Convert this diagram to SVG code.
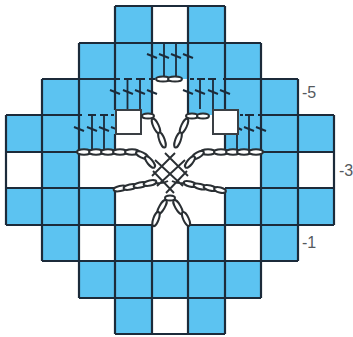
<svg xmlns="http://www.w3.org/2000/svg" width="353" height="337" viewBox="0 0 353 337">
<style>
.b{fill:#5cc3f1}
.g{fill:none;stroke:#1c2b3a;stroke-width:2.2}
.w{fill:none;stroke:#1c2b3a;stroke-width:1.8}
.t{fill:none;stroke:#1c2b3a;stroke-width:2}
.o{fill:#fff;stroke:#2a2f33;stroke-width:2}
.x{fill:none;stroke:#2a2f33;stroke-width:1.9}
.box{fill:#fff;stroke:#3a3f44;stroke-width:2}
text{font-family:"Liberation Sans",Arial,sans-serif;font-size:16px;fill:#55595d}
</style>
<rect width="353" height="337" fill="#fff"/>
<g id="cells">
<rect class="b" x="115" y="6" width="37" height="37"/>
<rect class="b" x="188" y="6" width="37" height="37"/>
<rect class="b" x="79" y="43" width="182" height="36"/>
<rect class="b" x="42" y="79" width="110" height="36"/>
<rect class="b" x="188" y="79" width="110" height="36"/>
<rect class="b" x="6" y="115" width="109" height="37"/>
<rect class="b" x="225" y="115" width="109" height="37"/>
<rect class="b" x="42" y="152" width="37" height="36"/>
<rect class="b" x="261" y="152" width="37" height="36"/>
<rect class="b" x="6" y="188" width="109" height="37"/>
<rect class="b" x="225" y="188" width="109" height="37"/>
<rect class="b" x="42" y="225" width="37" height="36"/>
<rect class="b" x="261" y="225" width="37" height="36"/>
<rect class="b" x="115" y="225" width="37" height="109"/>
<rect class="b" x="188" y="225" width="37" height="109"/>
<rect class="b" x="79" y="261" width="182" height="37"/>
</g>
<g id="connectors">
<path class="g" d="M115 6H225M79 43H261M42 79H120M223 79H298M6 115H82M258 115H334M6 152H79M261 152H334M6 188H115M225 188H334M6 225H152M188 225H334M42 261H298M79 298H261M115 334H225"/>
<path class="g" d="M6 115V225M42 79V261M79 43V298M115 6V110M115 134V152M115 188V334M152 6V115M152 225V334M188 6V115M188 225V334M225 6V110M225 134V152M225 188V334M261 43V298M298 79V261M334 115V225"/>
<path class="w" d="M164 43V79M176 43V79M127.500 79V109M140 79V109M200 79V109M213 79V109M92 115V152M104 115V152M237 134V152M249 115V152"/>
<path class="t" d="M124 79H132M136 79H145M149 79H155M190 79H194M197 79H205M208 79H216M88 115H96M100 115H108M111 115H114M240 115H243M245 115H254"/>
<path class="t" d="M147 54l10 4M159 54l10 4M171 54l10 4M183 54l10 4M110 90l10 4M123 90l10 4M135 90l10 4M147 90l10 4M183 90l10 4M195 90l10 4M208 90l10 4M220 90l10 4M74 127l10 4M87 127l10 4M99 127l10 4M111 127l6 2.400M238 128l4 2M244 127l10 4M256 127l10 4"/>
</g>
<g id="box-left"><rect class="box" x="116" y="110" width="25" height="24"/></g>
<g id="box-right"><rect class="box" x="213" y="110" width="25" height="24"/></g>
<g id="braids">
<g>
<ellipse class="o" cx="163" cy="79" rx="7" ry="2.600"/>
<ellipse class="o" cx="175" cy="79" rx="7" ry="2.600"/>
<ellipse class="o" cx="148" cy="116" rx="6" ry="2.600"/>
<ellipse class="o" cx="192" cy="116" rx="6" ry="2.600"/>
<ellipse class="o" cx="203" cy="116" rx="6" ry="2.600"/>
<ellipse class="o" cx="156" cy="126" rx="8" ry="2.700" transform="rotate(65 156 126)"/>
<ellipse class="o" cx="162" cy="140" rx="8" ry="2.700" transform="rotate(70 162 140)"/>
<ellipse class="o" cx="184" cy="126" rx="8" ry="2.700" transform="rotate(-65 184 126)"/>
<ellipse class="o" cx="178" cy="140" rx="8" ry="2.700" transform="rotate(-70 178 140)"/>
<ellipse class="o" cx="84" cy="152" rx="7" ry="2.700"/>
<ellipse class="o" cx="96" cy="152" rx="7" ry="2.700"/>
<ellipse class="o" cx="108" cy="152" rx="7" ry="2.700"/>
<ellipse class="o" cx="120" cy="152" rx="7" ry="2.700"/>
<ellipse class="o" cx="132" cy="152" rx="7" ry="2.700"/>
<ellipse class="o" cx="142" cy="155" rx="6.500" ry="2.700" transform="rotate(25 142 155)"/>
<ellipse class="o" cx="150" cy="162" rx="7" ry="2.700" transform="rotate(50 150 162)"/>
<ellipse class="o" cx="208" cy="152" rx="7" ry="2.700"/>
<ellipse class="o" cx="221" cy="152" rx="7" ry="2.700"/>
<ellipse class="o" cx="233" cy="152" rx="7" ry="2.700"/>
<ellipse class="o" cx="244" cy="152" rx="7" ry="2.700"/>
<ellipse class="o" cx="256" cy="152" rx="7" ry="2.700"/>
<ellipse class="o" cx="198" cy="155" rx="6.500" ry="2.700" transform="rotate(-30 198 155)"/>
<ellipse class="o" cx="190" cy="162" rx="7" ry="2.700" transform="rotate(-50 190 162)"/>
<ellipse class="o" cx="120" cy="188.500" rx="6.500" ry="2.600" transform="rotate(-12 120 188.500)"/>
<ellipse class="o" cx="130" cy="187" rx="6.500" ry="2.600" transform="rotate(-12 130 187)"/>
<ellipse class="o" cx="140" cy="185" rx="6.500" ry="2.600" transform="rotate(-12 140 185)"/>
<ellipse class="o" cx="150" cy="183" rx="6.500" ry="2.600" transform="rotate(-12 150 183)"/>
<ellipse class="o" cx="190" cy="184" rx="6.500" ry="2.600" transform="rotate(14 190 184)"/>
<ellipse class="o" cx="200" cy="186.500" rx="6.500" ry="2.600" transform="rotate(14 200 186.500)"/>
<ellipse class="o" cx="210" cy="188" rx="6.500" ry="2.600" transform="rotate(14 210 188)"/>
<ellipse class="o" cx="220" cy="190" rx="6" ry="2.600" transform="rotate(14 220 190)"/>
<ellipse class="o" cx="170" cy="198" rx="5" ry="2.600"/>
<ellipse class="o" cx="162" cy="207" rx="8" ry="2.700" transform="rotate(-60 162 207)"/>
<ellipse class="o" cx="156" cy="219" rx="7.500" ry="2.700" transform="rotate(-70 156 219)"/>
<ellipse class="o" cx="178" cy="207" rx="8" ry="2.700" transform="rotate(60 178 207)"/>
<ellipse class="o" cx="186" cy="219" rx="7.500" ry="2.700" transform="rotate(65 186 219)"/>
</g>
<path class="x" d="M165 153L188 176M175 153L152 176M155 160L183 186M185 160L157 186M153 171L174 193M187 171L166 193M155 183Q163 184 168 181M185 183Q177 184 172 181"/>
</g>
<g id="labels">
<text x="302" y="98">-5</text>
<text x="339" y="176">-3</text>
<text x="302" y="248">-1</text>
</g>
</svg>
